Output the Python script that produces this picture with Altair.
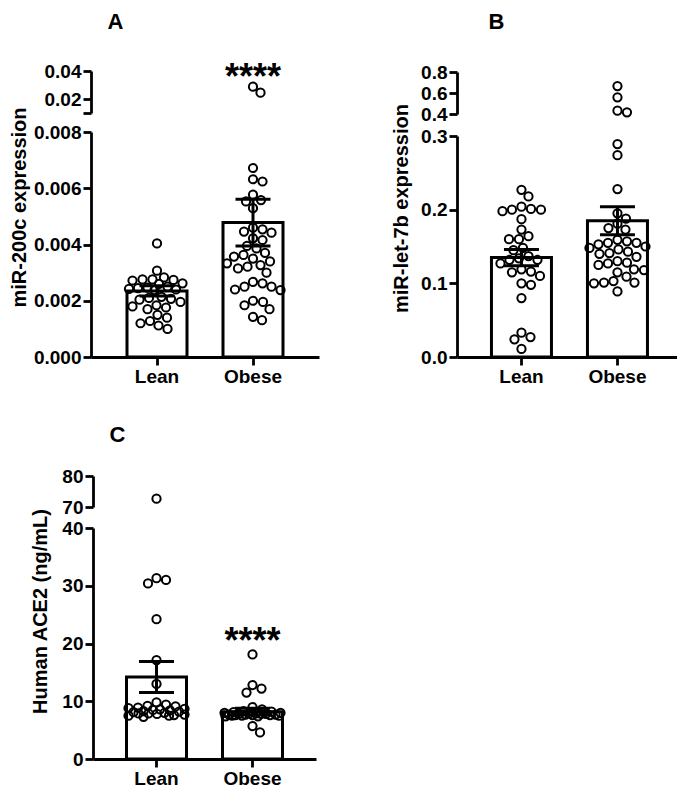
import altair as alt
import pandas as pd

GROUPS = ["Lean", "Obese"]

# ---------------- data ----------------
A_LEAN = [0.00404, 0.00307, 0.00283, 0.00276, 0.00276, 0.00274, 0.00272, 0.00262, 0.00250, 0.00247,
          0.00245, 0.00242, 0.00240, 0.00238, 0.00214, 0.00210, 0.00207, 0.00204, 0.00196, 0.00184,
          0.00180, 0.00176, 0.00170, 0.00150, 0.00140, 0.00128, 0.00120, 0.00112, 0.00100, 0.00260]
A_OBESE = [0.0288, 0.0245, 0.00672, 0.00632, 0.00624, 0.00577, 0.00558, 0.00553, 0.00529, 0.00460,
           0.00454, 0.00446, 0.00442, 0.00422, 0.00416, 0.00395, 0.00386, 0.00370, 0.00363, 0.00357,
           0.00350, 0.00340, 0.00333, 0.00327, 0.00321, 0.00315, 0.00300, 0.00267, 0.00262, 0.00250,
           0.00250, 0.00240, 0.00238, 0.00200, 0.00196, 0.00184, 0.00170, 0.00143, 0.00131]
A_MEAN = [0.00235, 0.00478]
A_SEM = [0.00018, 0.00083]

B_LEAN = [0.227, 0.218, 0.204, 0.200, 0.200, 0.201, 0.198, 0.187, 0.173, 0.160,
          0.160, 0.164, 0.148, 0.145, 0.137, 0.132, 0.127, 0.132, 0.134, 0.119,
          0.110, 0.116, 0.115, 0.098, 0.100, 0.080, 0.033, 0.027, 0.024, 0.011]
B_OBESE = [0.666, 0.559, 0.431, 0.416, 0.289, 0.274, 0.228, 0.195, 0.188, 0.181,
           0.175, 0.173, 0.159, 0.157, 0.155, 0.155, 0.153, 0.150, 0.148, 0.146,
           0.143, 0.141, 0.140, 0.136, 0.130, 0.128, 0.127, 0.125, 0.119, 0.118,
           0.115, 0.109, 0.103, 0.101, 0.101, 0.100, 0.089]
B_MEAN = [0.135, 0.185]
B_SEM = [0.011, 0.019]

C_LEAN = [72.7, 31.3, 31.0, 30.4, 24.2, 17.1, 13.0,
          9.8, 9.4, 9.2, 9.1, 8.9, 8.8, 8.7, 8.6, 8.5, 8.4, 8.3, 8.2, 8.1, 8.0,
          7.9, 7.9, 7.8, 7.7, 7.6, 7.5, 7.5, 7.3]
C_OBESE = [18.1, 12.8, 12.2, 11.5, 9.0, 8.6, 8.3, 8.2, 8.1, 8.0, 8.0, 7.9, 7.9, 7.8, 7.8,
           7.8, 7.7, 7.7, 7.7, 7.6, 7.6, 7.6, 7.5, 7.5, 7.5, 7.4, 7.4, 5.7, 4.6]
C_MEAN = [14.2, 8.2]
C_SEM = [2.7, 0.6]

STAR_TEXT = "****"

# ---------------- layout (view pixels) ----------------
W, H = 669, 751
PAD_BOTTOM = 28
FONT = "Liberation Sans"
PI = 0.375          # band inner padding -> bar width 60 for a 96 px step
STEP = 96

PANELS = [
    dict(letter="A", title="miR-200c expression", lean=A_LEAN, obese=A_OBESE, mean=A_MEAN, sem=A_SEM,
         yx=83, xoff=-402, x0=83, po=0.375,
         lo_dom=[0, 0.008], lo_rng=[349, 124], lo_ticks=[0, 0.002, 0.004, 0.006, 0.008], lo_fmt=".3f",
         up_dom=[0.01, 0.04], up_rng=[105, 63], up_ticks=[0.01, 0.02, 0.04], up_fmt=".2f",
         up_hide=0.01, title_x=17.5, title_y=199, letter_x=107, letter_y=20.5,
         star=("up", 0.035)),
    dict(letter="B", title="miR-let-7b expression", lean=B_LEAN, obese=B_OBESE, mean=B_MEAN, sem=B_SEM,
         yx=449, xoff=-402, x0=449, po=0.359,
         lo_dom=[0, 0.3], lo_rng=[349, 128], lo_ticks=[0, 0.1, 0.2, 0.3], lo_fmt=".1f",
         up_dom=[0.4, 0.8], up_rng=[106, 64], up_ticks=[0.4, 0.6, 0.8], up_fmt=".1f",
         up_hide=None, title_x=399, title_y=200, letter_x=488, letter_y=20.5,
         star=None),
    dict(letter="C", title="Human ACE2 (ng/mL)", lean=C_LEAN, obese=C_OBESE, mean=C_MEAN, sem=C_SEM,
         yx=85, xoff=0, x0=85, po=0.349,
         lo_dom=[0, 40], lo_rng=[751, 520], lo_ticks=[0, 10, 20, 30, 40], lo_fmt="d",
         up_dom=[70, 80], up_rng=[499, 468], up_ticks=[70, 80], up_fmt="d",
         up_hide=None, title_x=38, title_y=603, letter_x=109, letter_y=433,
         star=("lo", 20.2)),
]


def to_px(v, dom, rng):
    return rng[0] + (v - dom[0]) / (dom[1] - dom[0]) * (rng[1] - rng[0])


def swarm(ys, diam=9.6, maxw=28.0):
    """Deterministic beeswarm: nearest free horizontal offset for each point."""
    cands = [0.0]
    k = 1
    while k * 0.5 <= maxw:
        cands += [k * 0.5, -k * 0.5]
        k += 1
    order = sorted(range(len(ys)), key=lambda i: ys[i])
    placed, offs = [], [0.0] * len(ys)
    for i in order:
        y = ys[i]
        best, best_c, best_d = None, 0.0, -1.0
        for c in cands:
            md = min([((c - px) ** 2 + (y - py) ** 2) ** 0.5 for px, py in placed], default=1e9)
            if md >= diam:
                best = c
                break
            if md > best_d + 1e-9:
                best_d, best_c = md, c
        if best is None:
            best = best_c
        placed.append((best, y))
        offs[i] = best
    return offs


def build_panel(p):
    n = 2
    total = STEP * (n - PI + 2 * p["po"])
    xs = alt.Scale(type="band", domain=GROUPS, range=[p["x0"], p["x0"] + total],
                   paddingInner=PI, paddingOuter=p["po"])
    bandw = STEP * (1 - PI)
    lo_s = alt.Scale(domain=p["lo_dom"], range=p["lo_rng"], nice=False, zero=False)
    up_s = alt.Scale(domain=p["up_dom"], range=p["up_rng"], nice=False, zero=False)

    def xenc(axis=None):
        return alt.X("group:N", scale=xs, axis=axis, sort=GROUPS)

    x_axis = alt.Axis(orient="bottom", offset=p["xoff"], title=None, labelAngle=0,
                      tickSize=8, labelPadding=2, labelFontSize=19, labelBaseline="top")

    lo_axis = alt.Axis(orient="left", offset=-p["yx"], values=p["lo_ticks"], format=p["lo_fmt"],
                       tickSize=8, labelPadding=2, labelOverlap=False,
                       title=p["title"], titleX=p["title_x"] - p["yx"], titleY=p["title_y"],
                       titleAngle=270, titleAlign="center", titleBaseline="alphabetic",
                       titleFontSize=20)
    if p["up_hide"] is not None:
        lab = f"datum.value == {p['up_hide']} ? '' : format(datum.value, '{p['up_fmt']}')"
    else:
        lab = f"format(datum.value, '{p['up_fmt']}')"
    up_axis = alt.Axis(orient="left", offset=-p["yx"], values=p["up_ticks"], labelExpr=lab,
                       tickSize=8, labelPadding=2, labelOverlap=False,
                       title=p["letter"], titleX=p["letter_x"] - p["yx"], titleY=p["letter_y"],
                       titleAngle=0, titleAlign="center", titleBaseline="alphabetic",
                       titleFontSize=22)

    # points with beeswarm offsets
    rows = []
    for g, vals in zip(GROUPS, [p["lean"], p["obese"]]):
        ys = []
        for v in vals:
            if v > p["lo_dom"][1]:
                ys.append(to_px(v, p["up_dom"], p["up_rng"]))
            else:
                ys.append(to_px(v, p["lo_dom"], p["lo_rng"]))
        offs = swarm(ys)
        for v, o in zip(vals, offs):
            rows.append(dict(group=g, value=v, dx=o + bandw / 2,
                             seg="up" if v > p["lo_dom"][1] else "lo"))
    pts = pd.DataFrame(rows)

    summ = pd.DataFrame(dict(group=GROUPS, mean=p["mean"], sem=p["sem"]))
    summ["lo"] = summ["mean"] - summ["sem"]
    summ["hi"] = summ["mean"] + summ["sem"]
    caps = pd.concat([summ[["group", "lo"]].rename(columns={"lo": "cap"}),
                      summ[["group", "hi"]].rename(columns={"hi": "cap"})])

    bars = alt.Chart(summ).mark_bar(fill="white", stroke="black", strokeWidth=3).encode(
        x=xenc(x_axis),
        y=alt.Y("mean:Q", scale=lo_s, axis=lo_axis),
    )
    pt_style = dict(shape="circle", filled=False, stroke="black", strokeWidth=2, size=68, opacity=1)
    pts_lo = alt.Chart(pts[pts.seg == "lo"]).mark_point(**pt_style).encode(
        x=xenc(), xOffset=alt.XOffset("dx:Q", scale=None),
        y=alt.Y("value:Q", scale=lo_s, axis=None),
    )
    pts_up = alt.Chart(pts[pts.seg == "up"]).mark_point(**pt_style).encode(
        x=xenc(), xOffset=alt.XOffset("dx:Q", scale=None),
        y=alt.Y("value:Q", scale=up_s, axis=up_axis),
    )
    err = alt.Chart(summ).mark_rule(color="black", strokeWidth=3).encode(
        x=xenc(), y=alt.Y("lo:Q", scale=lo_s, axis=None), y2="hi:Q",
    )
    cap = alt.Chart(caps).mark_tick(color="black", size=35, thickness=3, opacity=1).encode(
        x=xenc(), y=alt.Y("cap:Q", scale=lo_s, axis=None),
    )
    layers = [bars, pts_lo, pts_up, err, cap]
    if p["star"] is not None:
        seg, sv = p["star"]
        sdf = pd.DataFrame(dict(group=["Obese"], sy=[sv], label=[STAR_TEXT]))
        layers.append(
            alt.Chart(sdf).mark_text(font=FONT, fontSize=36, fontWeight="bold", color="black",
                                     baseline="middle", align="center").encode(
                x=xenc(), y=alt.Y("sy:Q", scale=up_s if seg == "up" else lo_s, axis=None),
                text="label:N",
            )
        )
    return layers


all_layers = []
for p in PANELS:
    all_layers += build_panel(p)

chart = (
    alt.layer(*all_layers)
    .resolve_scale(x="independent", y="independent")
    .properties(width=W, height=H, autosize=alt.AutoSizeParams(type="none"),
                padding={"left": 0, "top": 0, "right": 0, "bottom": PAD_BOTTOM})
    .configure_view(stroke=None)
    .configure_axis(domainColor="black", domainWidth=2.8, tickColor="black", tickWidth=2.8,
                    labelColor="black", labelFont=FONT, labelFontWeight="bold", labelFontSize=19,
                    titleColor="black", titleFont=FONT, titleFontWeight="bold", grid=False)
)

chart.save("out.html", embed_options={"renderer": "svg", "actions": False})
